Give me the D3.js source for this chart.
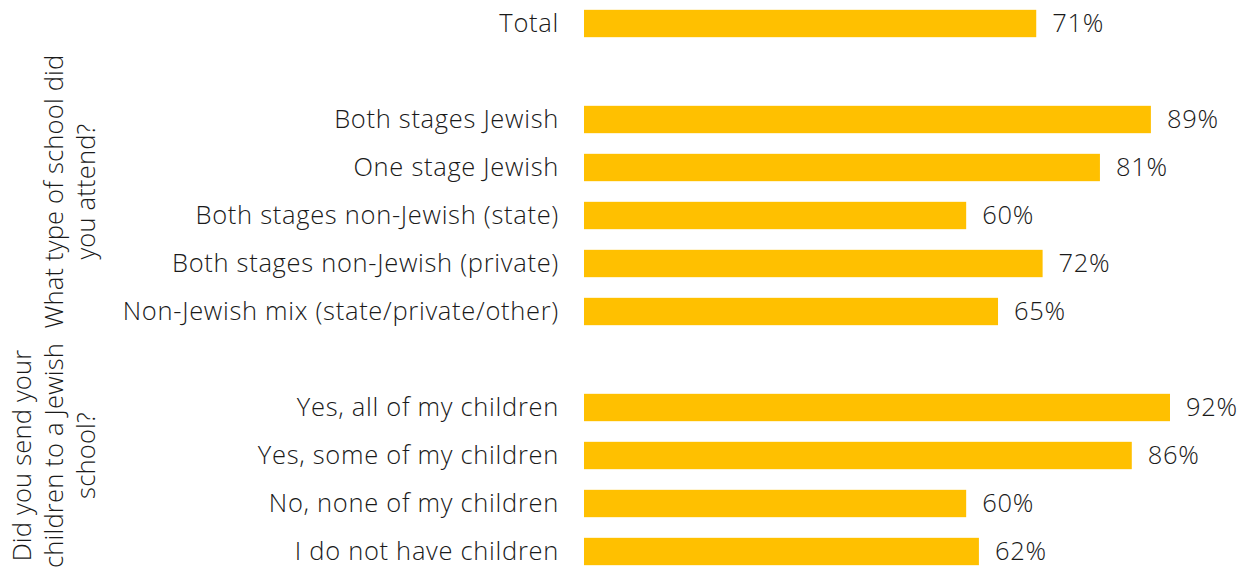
<!DOCTYPE html>
<html>
<head>
<meta charset="utf-8">
<script src="https://cdn.jsdelivr.net/npm/d3@7"></script>
<style>
  body { margin: 0; background: #fff; }
  text { font-family: "Open Sans", "Noto Sans", sans-serif; font-weight: 300; fill: #1a1a1a; letter-spacing: 0.7px; }
  text.group { letter-spacing: 0.2px; }
</style>
</head>
<body>
<div id="chart"></div>
<script>
// rows in display order, blank entries are spacer rows between groups
const categories = [
  'Total', '',
  'Both stages Jewish', 'One stage Jewish', 'Both stages non-Jewish (state)',
  'Both stages non-Jewish (private)', 'Non-Jewish mix (state/private/other)', ' ',
  'Yes, all of my children', 'Yes, some of my children', 'No, none of my children',
  'I do not have children'
];
const values = [71, null, 89, 81, 60, 72, 65, null, 92, 86, 60, 62];

// group titles span their spacer row plus their own rows
const groups = [
  { lines: ['What type of school did', 'you attend?'], first: '', last: 'Non-Jewish mix (state/private/other)' },
  { lines: ['Did you send your', 'children to a Jewish', 'school?'], first: ' ', last: 'I do not have children' }
];

const width = 1252, height = 574;
const fontSize = '25.5px';
const svg = d3.select('#chart').append('svg')
  .attr('width', width)
  .attr('height', height);

const x = d3.scaleLinear()
  .domain([0, 92])
  .range([584, 1170]);

const y = d3.scaleBand()
  .domain(categories)
  .range([-0.5, 575.5])
  .paddingInner(0.43)
  .paddingOuter(0.215);

const rows = categories.map((c, i) => ({ cat: c, val: values[i] })).filter(d => d.val != null);

svg.selectAll('rect.bar')
  .data(rows)
  .enter().append('rect')
  .attr('class', 'bar')
  .attr('x', x(0))
  .attr('y', d => y(d.cat))
  .attr('width', d => x(d.val) - x(0))
  .attr('height', y.bandwidth())
  .attr('fill', '#ffc000');

svg.selectAll('text.cat')
  .data(rows)
  .enter().append('text')
  .attr('class', 'cat')
  .attr('x', 559)
  .attr('y', d => y(d.cat) + y.bandwidth() / 2)
  .attr('dy', '0.35em')
  .attr('text-anchor', 'end')
  .style('font-size', fontSize)
  .text(d => d.cat);

svg.selectAll('text.val')
  .data(rows)
  .enter().append('text')
  .attr('class', 'val')
  .attr('x', d => x(d.val) + 16)
  .attr('y', d => y(d.cat) + y.bandwidth() / 2)
  .attr('dy', '0.35em')
  .style('font-size', fontSize)
  .text(d => d.val + '%');

// rotated group titles, last line sits nearest the labels
const lineGap = 32;
groups.forEach(g => {
  const half = y.step() * y.paddingInner() / 2;
  const cy = (y(g.first) - half + y(g.last) + y.bandwidth() + half) / 2;
  const n = g.lines.length;
  g.lines.forEach((line, i) => {
    const bx = 95 - (n - 1 - i) * lineGap;
    svg.append('text')
      .attr('class', 'group')
      .attr('transform', `translate(${bx},${cy}) rotate(-90)`)
      .attr('text-anchor', 'middle')
      .style('font-size', fontSize)
      .text(line);
  });
});
</script>
</body>
</html>
